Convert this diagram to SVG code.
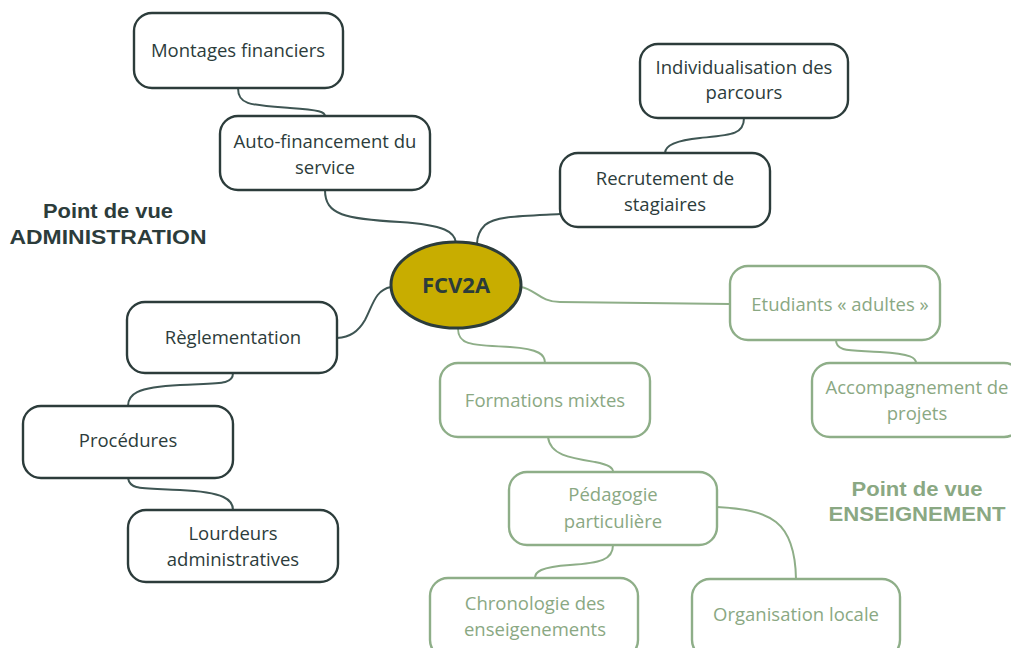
<svg xmlns="http://www.w3.org/2000/svg" width="1011" height="648" viewBox="0 0 1011 648">
<style>
.bd{fill:#fff;stroke:#2c3c3b;stroke-width:2.4}
.bg{fill:#fff;stroke:#8eae88;stroke-width:2.4}
.td{font-family:'Open Sans',sans-serif;font-size:18.5px;fill:#2c3c3b;text-anchor:middle}
.tg{font-family:'Open Sans',sans-serif;font-size:18.5px;fill:#8aa883;text-anchor:middle}
.cd{fill:none;stroke:#3e5553;stroke-width:2}
.cg{fill:none;stroke:#8eae88;stroke-width:2}
.lab{font-family:'Liberation Sans',Arial,sans-serif;font-size:20px;font-weight:bold;text-anchor:middle}
</style>
<rect width="1011" height="648" fill="#fff"/>
<g id="connectors">
<path class="cd" d="M238,88 C238,105 250,105 290,108 C320,110 325,112 325,116"/>
<path class="cd" d="M325,190 C325,215 345,219 400,222 C445,225 455,232 456,243"/>
<path class="cd" d="M560,214 C520,216 495,216 485,225 C479,231 477,238 477,244"/>
<path class="cd" d="M744,118 C744,135 730,135 700,138 C670,141 665,148 665,153"/>
<path class="cd" d="M391,287 C375,290 373,305 365,320 C358,332 350,337 337,338"/>
<path class="cd" d="M233,373 C233,385 220,383 180,385 C135,387 128,395 128,406"/>
<path class="cd" d="M128,478 C130,490 140,488 180,490 C225,492 233,500 233,510"/>
<path class="cg" d="M521,287 C535,289 540,302 560,302 L730,304"/>
<path class="cg" d="M836,340 C836,352 850,350 880,352 C912,354 916,358 916,363"/>
<path class="cg" d="M458,328 C458,345 470,345 510,347 C540,349 545,355 545,363"/>
<path class="cg" d="M548,437 C550,455 570,458 595,462 C610,465 613,468 613,472"/>
<path class="cg" d="M613,545 C613,560 600,563 570,565 C540,567 535,572 535,578"/>
<path class="cg" d="M717,507 C770,510 795,520 796,579"/>
</g>
<g id="center">
<ellipse cx="456" cy="285" rx="65" ry="43" fill="#c8ad00" stroke="#2c3c3b" stroke-width="3"/>
<text x="456" y="293" font-family="'Open Sans',sans-serif" font-size="22" font-weight="bold" fill="#2c3c3b" text-anchor="middle">FCV2A</text>
</g>
<g id="montages"><rect class="bd" x="134" y="13" width="209" height="75" rx="18"/><text class="td" x="238" y="57">Montages financiers</text></g>
<g id="autofin"><rect class="bd" x="220" y="116" width="210" height="74" rx="18"/><text class="td" x="325" y="148">Auto-financement du</text><text class="td" x="325" y="174">service</text></g>
<g id="individ"><rect class="bd" x="640" y="44" width="208" height="74" rx="18"/><text class="td" x="744" y="74">Individualisation des</text><text class="td" x="744" y="99">parcours</text></g>
<g id="recrut"><rect class="bd" x="560" y="153" width="210" height="74" rx="18"/><text class="td" x="665" y="185">Recrutement de</text><text class="td" x="665" y="211">stagiaires</text></g>
<g id="reglem"><rect class="bd" x="127" y="302" width="210" height="71" rx="18"/><text class="td" x="233" y="344">Règlementation</text></g>
<g id="proced"><rect class="bd" x="23" y="406" width="210" height="72" rx="18"/><text class="td" x="128" y="447">Procédures</text></g>
<g id="lourd"><rect class="bd" x="128" y="510" width="210" height="72" rx="18"/><text class="td" x="233" y="540">Lourdeurs</text><text class="td" x="233" y="566">administratives</text></g>
<g id="etud"><rect class="bg" x="730" y="266" width="210" height="74" rx="18"/><text class="tg" x="840" y="311">Etudiants « adultes »</text></g>
<g id="accomp"><rect class="bg" x="812" y="363" width="210" height="74" rx="18"/><text class="tg" x="917" y="394">Accompagnement de</text><text class="tg" x="917" y="420">projets</text></g>
<g id="formations"><rect class="bg" x="440" y="363" width="210" height="74" rx="18"/><text class="tg" x="545" y="407">Formations mixtes</text></g>
<g id="pedago"><rect class="bg" x="509" y="472" width="208" height="73" rx="18"/><text class="tg" x="613" y="501">Pédagogie</text><text class="tg" x="613" y="528">particulière</text></g>
<g id="chrono"><rect class="bg" x="430" y="578" width="208" height="80" rx="18"/><text class="tg" x="535" y="610">Chronologie des</text><text class="tg" x="535" y="636">enseigenements</text></g>
<g id="orga"><rect class="bg" x="692" y="579" width="208" height="79" rx="18"/><text class="tg" x="796" y="621">Organisation locale</text></g>
<g id="labels">
<text class="lab" x="108" y="218" fill="#2c3c3b" textLength="130" lengthAdjust="spacingAndGlyphs">Point de vue</text>
<text class="lab" x="108" y="244" fill="#2c3c3b" textLength="197" lengthAdjust="spacingAndGlyphs">ADMINISTRATION</text>
<text class="lab" x="917" y="496" fill="#8aa883" textLength="131" lengthAdjust="spacingAndGlyphs">Point de vue</text>
<text class="lab" x="917" y="521" fill="#8aa883" textLength="177" lengthAdjust="spacingAndGlyphs">ENSEIGNEMENT</text>
</g>
</svg>
